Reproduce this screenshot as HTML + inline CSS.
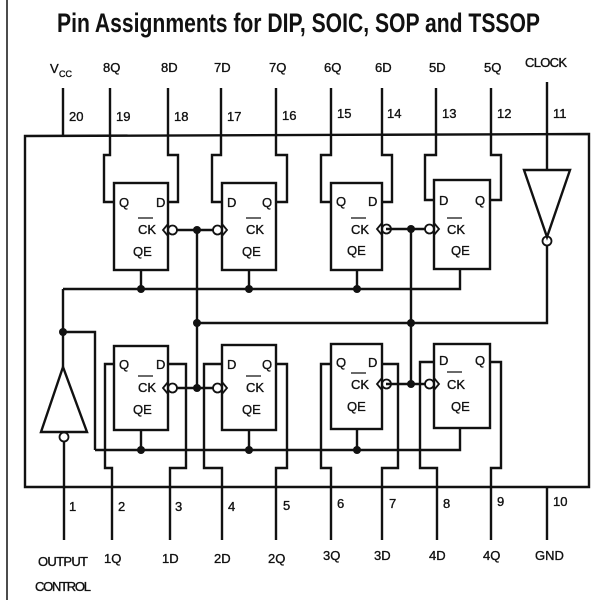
<!DOCTYPE html>
<html><head><meta charset="utf-8"><style>
html,body{margin:0;padding:0;background:#fff;width:600px;height:600px;overflow:hidden}
svg{display:block}
text{font-family:"Liberation Sans",sans-serif;fill:#111}
.l text{stroke:#111;stroke-width:0.35}
</style></head><body>
<svg width="600" height="600" viewBox="0 0 600 600" xmlns="http://www.w3.org/2000/svg">
<g stroke="#111" fill="none" stroke-width="2.4">
<line x1="7" y1="0" x2="7" y2="600" stroke-width="1.5"/>
<path d="M25 487 L25 136 L589 134 L589 487 Z"/>
<path d="M63 88V136 M110 88V136 M168 88V136 M221 88V136 M276 88V136 M331 88V136 M382 88V136 M436 88V136 M491 88V136 M547 82V136"/>
<path d="M64 487V540 M112 487V540 M170 487V540 M222 487V540 M276 487V540 M331 487V540 M382 487V540 M437 487V540 M491 487V540 M547 487V540"/>
<rect x="114" y="183" width="54" height="87"/>
<rect x="222" y="183" width="54" height="87"/>
<rect x="331" y="183" width="51" height="87"/>
<rect x="434" y="180" width="56" height="89"/>
<rect x="114" y="346" width="54" height="84"/>
<rect x="222" y="345" width="54" height="85"/>
<rect x="331" y="344" width="51" height="85"/>
<rect x="434" y="344" width="56" height="84"/>
<path d="M110 136V155H104V202H114 M168 136V155H178V202H168"/>
<path d="M221 136V155H212V202H222 M276 136V155H287V202H276"/>
<path d="M331 136V155H321V202H331 M382 136V155H392V202H382"/>
<path d="M436 136V155H425V200H434 M491 136V155H501V200H490"/>
<path d="M114 364H105V468H112V487 M168 364H186V468H170V487"/>
<path d="M222 364H204V468H222V487 M276 364H287V468H276V487"/>
<path d="M331 364H321V468H331V487 M382 364H398V468H382V487"/>
<path d="M434 362H420V468H437V487 M490 362H501V468H491V487"/>
<path d="M177 230H213 M386 229H426 M177 388H213 M386 384H426"/>
<path d="M197 230V388 M411 229V384 M197 323H547V245"/>
<path d="M63 289H460V269 M141 270V289 M249 270V289 M357 270V289"/>
<path d="M95 450H460V428 M141 430V450 M249 430V450 M357 429V450 M63 332H95V450"/>
<path d="M63 289V367"/>
<path d="M63 367L41 432H87Z"/>
<circle cx="64" cy="437" r="4.5" stroke-width="1.8"/>
<path d="M64 442V487"/>
<path d="M524 170H570L547 237Z"/>
<circle cx="547" cy="241" r="4.5" stroke-width="1.8"/>
<path d="M547 136V170"/>
<g stroke-width="1.8">
<circle cx="172.5" cy="230" r="4.5"/><path d="M168 224L163 230L168 236"/>
<circle cx="217.5" cy="230" r="4.5"/><path d="M222 224L227 230L222 236"/>
<circle cx="386.5" cy="229" r="4.5"/><path d="M382 223L377 229L382 235"/>
<circle cx="429.5" cy="229" r="4.5"/><path d="M434 223L439 229L434 235"/>
<circle cx="172.5" cy="388" r="4.5"/><path d="M168 382L163 388L168 394"/>
<circle cx="217.5" cy="388" r="4.5"/><path d="M222 382L227 388L222 394"/>
<circle cx="386.5" cy="384" r="4.5"/><path d="M382 378L377 384L382 390"/>
<circle cx="429.5" cy="384" r="4.5"/><path d="M434 378L439 384L434 390"/>
</g>
<g stroke-width="1.3">
<path d="M138 218H153 M246 218H261 M351 218H366 M447 218H462"/>
<path d="M138 376H153 M246 376H261 M351 373H366 M447 372H462"/>
</g>
</g>
<g fill="#111">
<circle cx="197" cy="230" r="4"/><circle cx="411" cy="229" r="4"/>
<circle cx="197" cy="388" r="4"/><circle cx="411" cy="384" r="4"/>
<circle cx="197" cy="323" r="4"/><circle cx="411" cy="323" r="4"/>
<circle cx="141" cy="289" r="4"/><circle cx="249" cy="289" r="4"/><circle cx="357" cy="289" r="4"/>
<circle cx="141" cy="450" r="4"/><circle cx="249" cy="450" r="4"/><circle cx="357" cy="450" r="4"/>
<circle cx="63" cy="332" r="4"/>
</g>
<text x="57" y="32" font-size="27" font-weight="bold" textLength="483" lengthAdjust="spacingAndGlyphs">Pin Assignments for DIP, SOIC, SOP and TSSOP</text>
<g font-size="13" class="l">
<text x="50" y="73">V</text><text x="59" y="77" font-size="9">CC</text>
<text x="103" y="72">8Q</text><text x="161" y="72">8D</text><text x="214" y="72">7D</text><text x="269" y="72">7Q</text>
<text x="324" y="72">6Q</text><text x="375" y="72">6D</text><text x="429" y="72">5D</text><text x="484" y="72">5Q</text>
<text x="525" y="67" textLength="42">CLOCK</text>
<text x="69" y="121">20</text><text x="116" y="121">19</text><text x="174" y="121">18</text><text x="227" y="121">17</text>
<text x="282" y="120">16</text><text x="337" y="118">15</text><text x="387" y="118">14</text><text x="442" y="118">13</text>
<text x="497" y="118">12</text><text x="553" y="118">11</text>
<text x="69" y="511">1</text><text x="118" y="511">2</text><text x="175" y="511">3</text><text x="228" y="511">4</text>
<text x="283" y="510">5</text><text x="337" y="508">6</text><text x="389" y="508">7</text><text x="443" y="508">8</text>
<text x="497" y="506">9</text><text x="553" y="506">10</text>
<text x="38" y="566" textLength="50">OUTPUT</text><text x="35" y="591" textLength="56">CONTROL</text>
<text x="104" y="563">1Q</text><text x="162" y="563">1D</text><text x="214" y="563">2D</text><text x="268" y="563">2Q</text>
<text x="323" y="560">3Q</text><text x="374" y="560">3D</text><text x="429" y="560">4D</text><text x="483" y="560">4Q</text>
<text x="535" y="560">GND</text>
<text x="119" y="207">Q</text><text x="156" y="207">D</text><text x="138" y="234">CK</text><text x="133" y="256">QE</text>
<text x="227" y="207">D</text><text x="262" y="207">Q</text><text x="246" y="234">CK</text><text x="242" y="256">QE</text>
<text x="336" y="206">Q</text><text x="368" y="206">D</text><text x="351" y="234">CK</text><text x="347" y="255">QE</text>
<text x="439" y="205">D</text><text x="475" y="205">Q</text><text x="447" y="234">CK</text><text x="451" y="255">QE</text>
<text x="119" y="369">Q</text><text x="156" y="369">D</text><text x="138" y="392">CK</text><text x="133" y="414">QE</text>
<text x="227" y="369">D</text><text x="262" y="369">Q</text><text x="246" y="392">CK</text><text x="242" y="414">QE</text>
<text x="336" y="367">Q</text><text x="368" y="367">D</text><text x="351" y="389">CK</text><text x="347" y="411">QE</text>
<text x="439" y="365">D</text><text x="475" y="365">Q</text><text x="447" y="389">CK</text><text x="451" y="411">QE</text>
</g>
</svg>
</body></html>
